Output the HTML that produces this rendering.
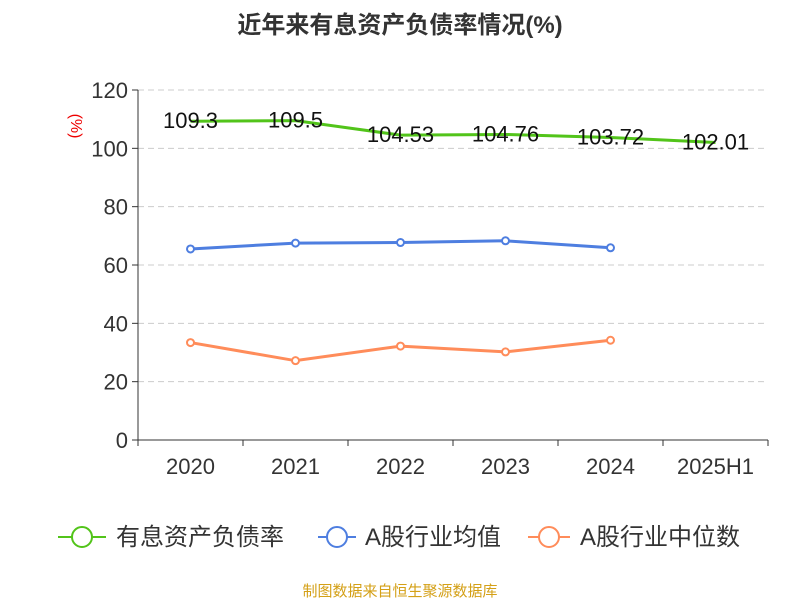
<!DOCTYPE html>
<html><head><meta charset="utf-8"><style>
body{margin:0;background:#fff;}
svg text{font-family:"Liberation Sans","Noto Sans CJK SC",sans-serif;}
</style></head><body>
<svg id="c" width="800" height="600" xmlns="http://www.w3.org/2000/svg">
<text x="400" y="33" text-anchor="middle" font-size="24" font-weight="bold" fill="#333">近年来有息资产负债率情况(%)</text>
<text transform="translate(71,126) rotate(90)" text-anchor="middle" font-size="16" fill="#e00">(%)</text>
<g id="grid"></g><g id="axes"></g><g id="series"></g>
<g>
<g><line x1="58" y1="537" x2="106" y2="537" stroke="#52c41a" stroke-width="2"/><circle cx="82" cy="537" r="10" fill="#fff" stroke="#52c41a" stroke-width="2"/><text x="116" y="545" font-size="24" fill="#333">有息资产负债率</text></g>
<g><line x1="318" y1="537" x2="356" y2="537" stroke="#4e7ee0" stroke-width="2"/><circle cx="337" cy="537" r="10" fill="#fff" stroke="#4e7ee0" stroke-width="2"/><text x="365" y="545" font-size="24" fill="#333">A股行业均值</text></g>
<g><line x1="528" y1="537" x2="570" y2="537" stroke="#ff8c5a" stroke-width="2"/><circle cx="549" cy="537" r="10" fill="#fff" stroke="#ff8c5a" stroke-width="2"/><text x="580" y="545" font-size="24" fill="#333">A股行业中位数</text></g>
</g>
<text x="400" y="596" text-anchor="middle" font-size="15" fill="#d4a017">制图数据来自恒生聚源数据库</text>
</svg>
<script>
const categories=["2020","2021","2022","2023","2024","2025H1"];
const debtRatio=[109.3,109.5,104.53,104.76,103.72,102.01];
const industryMean=[65.5,67.5,67.7,68.3,65.9];
const industryMedian=[33.4,27.2,32.2,30.2,34.2];
const yTicks=[0,20,40,60,80,100,120];
const NS="http://www.w3.org/2000/svg";
const x0=138,x1=768,yB=440,yT=90,yMax=120;
const bw=(x1-x0)/categories.length;
const xs=i=>x0+bw*(i+0.5);
const ys=v=>yB-(v/yMax)*(yB-yT);
function mk(p,t,a){const e=document.createElementNS(NS,t);for(const k in a)e.setAttribute(k,a[k]);p.appendChild(e);return e;}
const grid=document.getElementById('grid'),axes=document.getElementById('axes'),ser=document.getElementById('series');
yTicks.forEach(v=>{
 if(v>0){const g=mk(grid,'line',{x1:x0,x2:x1,y1:ys(v),y2:ys(v),stroke:'#ccc','stroke-dasharray':'6,4'});
 
 }
 mk(axes,'line',{x1:x0-6,x2:x0,y1:ys(v),y2:ys(v),stroke:'#333'});
 const t=mk(axes,'text',{x:x0-10,y:ys(v)+8,'text-anchor':'end','font-size':22,fill:'#333'});t.textContent=v;
 
 
});
mk(axes,'line',{x1:x0,x2:x0,y1:yT,y2:yB,stroke:'#333'});
mk(axes,'line',{x1:x0,x2:x1,y1:yB,y2:yB,stroke:'#333'});
for(let i=0;i<=categories.length;i++)mk(axes,'line',{x1:x0+bw*i,x2:x0+bw*i,y1:yB,y2:yB+6,stroke:'#333'});
categories.forEach((c,i)=>{const t=mk(axes,'text',{x:xs(i),y:474,'text-anchor':'middle','font-size':22,fill:'#333'});t.textContent=c;
 
 });
function series(d,col,name,markers,labels){
 const p=mk(ser,'polyline',{points:d.map((v,i)=>xs(i)+','+ys(v)).join(' '),fill:'none',stroke:col,'stroke-width':3});
 
 
 d.forEach((v,i)=>{
  if(markers){const c=mk(ser,'circle',{cx:xs(i),cy:ys(v),r:3.5,fill:'#fff',stroke:col,'stroke-width':2});
  
  }
  if(labels){const t=mk(ser,'text',{x:xs(i),y:ys(v)+7,'text-anchor':'middle','font-size':22,fill:'#111'});t.textContent=v;
  
  }
 });
}
series(debtRatio,'#52c41a','debt-ratio',false,true);
series(industryMean,'#4e7ee0','industry-mean',true,false);
series(industryMedian,'#ff8c5a','industry-median',true,false);
</script>
</body></html>
